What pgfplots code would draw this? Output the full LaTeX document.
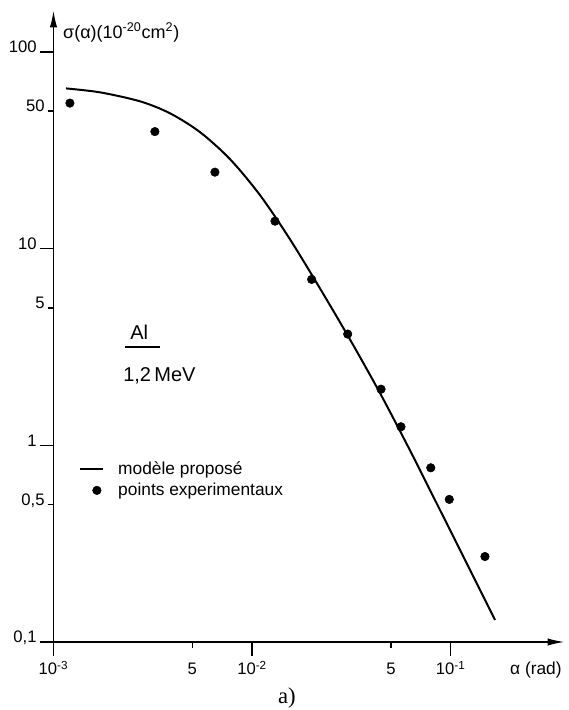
\documentclass[border=0pt]{standalone}
\usepackage{fontspec}
\setmainfont{Liberation Sans}
\newfontfamily\timesfont{Liberation Serif}
\usepackage{pgfplots}
\usepackage{pgfplotstable}
\pgfplotsset{compat=1.18}
\usetikzlibrary{arrows.meta}

\pgfplotsset{dot legend/.style={legend image code/.code={%
    \draw[mark repeat=2, mark phase=2, ##1]
        plot coordinates {(0cm,0cm) (0.45cm,0cm) (0.6cm,0cm)};}}}

% modele propose (courbe)
\pgfplotstableread{
alpha sigma
0.001156 65.31
0.001714 62.38
0.002727 56.16
0.003861 48.80
0.005466 39.16
0.007740 28.54
0.010959 18.73
0.01552 11.164
0.02198 6.278
0.03112 3.455
0.04406 1.845
0.06239 0.9432
0.08834 0.4693
0.1251 0.2326
0.1672 0.1295
}\modele

% points experimentaux
\pgfplotstableread{
alpha sigma
0.00121 55.0
0.00324 39.4
0.00650 24.5
0.01304 13.8
0.01995 6.98
0.0303 3.68
0.0446 1.93
0.0562 1.243
0.0794 0.769
0.0984 0.531
0.1488 0.272
}\mesures

\begin{document}
\begin{tikzpicture}
\useasboundingbox (-40.125pt,-51pt) rectangle (385.875pt,481.5pt);
\begin{axis}[
    at={(0,0)}, anchor=south west,
    scale only axis, width=383.6pt, height=474pt,
    xmode=log, ymode=log,
    xmin=0.001, xmax=0.3763, ymin=0.1, ymax=163.6,
    axis lines=left,
    axis line style={line width=1.4pt, -{Latex[length=13pt,width=5.5pt]}},
    tick align=outside,
    major tick length=10.5pt, minor tick length=0pt,
    tick style={line width=1.2pt, black},
    tick label style={font=\fontsize{12.5}{14}\selectfont},
    /pgf/number format/assume math mode=true,
    xtick={0.001,0.01,0.1},
    xticklabels={10\textsuperscript{-3},10\textsuperscript{-2},10\textsuperscript{-1}},
    extra x ticks={0.005,0.05},
    extra x tick labels={5,5},
    extra x tick style={major tick length=4.5pt, xticklabel style={yshift=-6pt}},
    xticklabel style={anchor=base, yshift=-14.25pt},
    ytick={0.1,1,10,100},
    yticklabels={{0,1},1,10,100},
    extra y ticks={0.5,5,50},
    extra y tick labels={{0,5},5,50},
    extra y tick style={major tick length=4.5pt},
    yticklabel style={anchor=base east, inner sep=2pt, yshift=-0.5pt},
    legend style={draw=none, fill=none, at={(0.049,0.290)}, anchor=north west,
        font=\fontsize{13}{15}\selectfont, inner sep=0pt, row sep=1pt,
        /tikz/every odd column/.append style={column sep=9pt}},
    legend cell align=left,
    clip=false,
]
\addplot[black, line width=1.5pt, smooth] table[x=alpha, y=sigma] {\modele};
\addlegendentry{modèle proposé}
\addplot[black, only marks, mark=*, mark size=3.2pt, dot legend]
    table[x=alpha, y=sigma] {\mesures};
\addlegendentry{points experimentaux}

\node[anchor=base west, inner sep=0pt, font=\fontsize{13.5}{16}\selectfont]
    at (axis cs:0.001116,117.7) {σ(α)(10\textsuperscript{-20}cm\textsuperscript{2})};
\node[anchor=base west, inner sep=0pt, font=\fontsize{13}{15}\selectfont]
    at (axis cs:0.1989,0.0680) {α (rad)};
\node[anchor=base, inner sep=0pt, font=\timesfont\fontsize{17}{20}\selectfont]
    at (axis cs:0.014987,0.0484) {a)};
\node[anchor=base west, inner sep=0pt, font=\fontsize{15}{18}\selectfont]
    at (axis cs:0.00243,3.47) {Al};
\draw[line width=1.2pt] (axis cs:0.00229,3.16) -- (axis cs:0.00344,3.16);
\node[anchor=base west, inner sep=0pt, font=\fontsize{15}{18}\selectfont]
    at (axis cs:0.00224,2.10) {1,2\,MeV};
\end{axis}
\end{tikzpicture}
\end{document}
